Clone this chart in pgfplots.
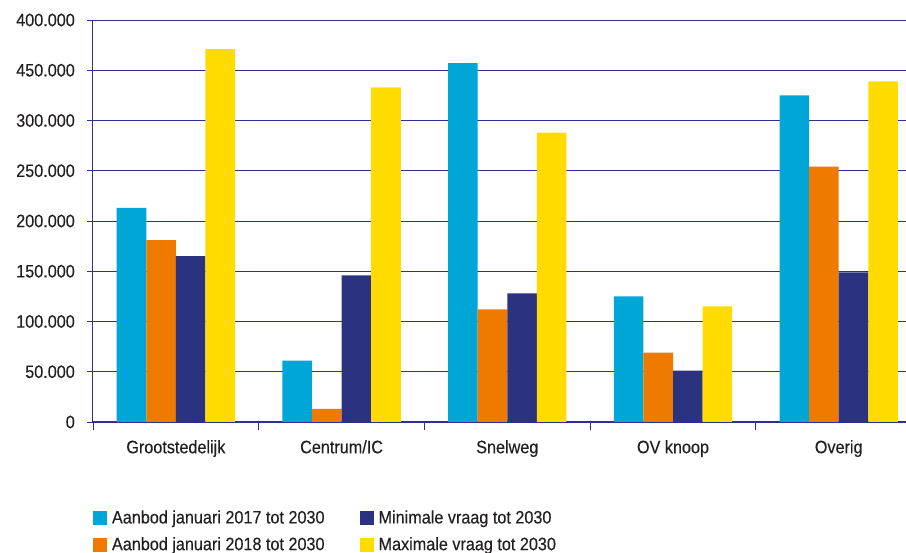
\documentclass[border=0pt]{standalone}
\usepackage{fontspec}
\setmainfont{Liberation Sans}[FakeStretch=0.9, FakeBold=0.3]
\usepackage{pgfplots}
\pgfplotsset{compat=1.18}
\definecolor{cA}{RGB}{0,166,214}
\definecolor{cB}{RGB}{238,123,0}
\definecolor{cC}{RGB}{43,51,128}
\definecolor{cD}{RGB}{255,219,0}
\definecolor{gridc}{RGB}{46,49,146}
\definecolor{txt}{RGB}{35,31,32}
\pgfplotsset{
  sq/.style={draw=none, legend image code/.code={\fill[##1] (0pt,-7pt) rectangle (14pt,7pt);}},
}
\begin{document}
\fontsize{18}{21}\selectfont
\begin{tikzpicture}
\begin{axis}[
    at={(0,0)}, anchor=south west,
    scale only axis, width=813pt, height=402pt,
    ybar=0pt, bar width=29.6pt,
    xmin=-0.5, xmax=4.406, ymin=0, ymax=400000,
    scaled y ticks=false,
    axis lines*=left,
    axis line style={gridc, line width=1pt},
    ytick={0,50000,100000,150000,200000,250000,300000,350000,400000},
    yticklabels={0,50.000,100.000,150.000,200.000,250.000,300.000,450.000,400.000},
    ymajorgrids, grid style={gridc, line width=0.9pt},
    xtick={0,1,2,3,4},
    xticklabels={Grootstedelijk,Centrum/IC,Snelweg,OV knoop,Overig},
    minor xtick={-0.5,0.5,1.5,2.5,3.5},
    tick align=outside,
    major tick length=6pt, minor tick length=8pt,
    major x tick style={draw=none},
    tick style={gridc, line width=0.9pt},
    ticklabel style={txt, font=\fontsize{18}{21}\selectfont},
    xticklabel style={yshift=-6pt},
    yticklabel style={xshift=-6pt},
    legend columns=2, transpose legend,
    legend style={at={(axis description cs:0,-0.215)}, anchor=north west,
      draw=none, fill=none, inner sep=0pt, outer sep=0pt,
      font=\fontsize{18}{21}\selectfont, text=txt, row sep=7pt,
      /tikz/every odd column/.append style={column sep=3pt},
      /tikz/every even column/.append style={column sep=33pt}},
    legend cell align=left,
]
\addplot[fill=cA, sq] coordinates {(0,213000) (1,61000) (2,357000) (3,125000) (4,325000)};
\addplot[fill=cB, sq] coordinates {(0,181000) (1,13000) (2,112000) (3,69000) (4,254000)};
\addplot[fill=cC, sq] coordinates {(0,165000) (1,146000) (2,128000) (3,51000) (4,149000)};
\addplot[fill=cD, sq] coordinates {(0,371000) (1,333000) (2,288000) (3,115000) (4,339000)};
\legend{Aanbod januari 2017 tot 2030, Aanbod januari 2018 tot 2030, Minimale vraag tot 2030, Maximale vraag tot 2030}
\end{axis}
\pgfresetboundingbox
\path[use as bounding box] (-93pt,-131pt) rectangle (813pt,422pt);
\end{tikzpicture}
\end{document}
